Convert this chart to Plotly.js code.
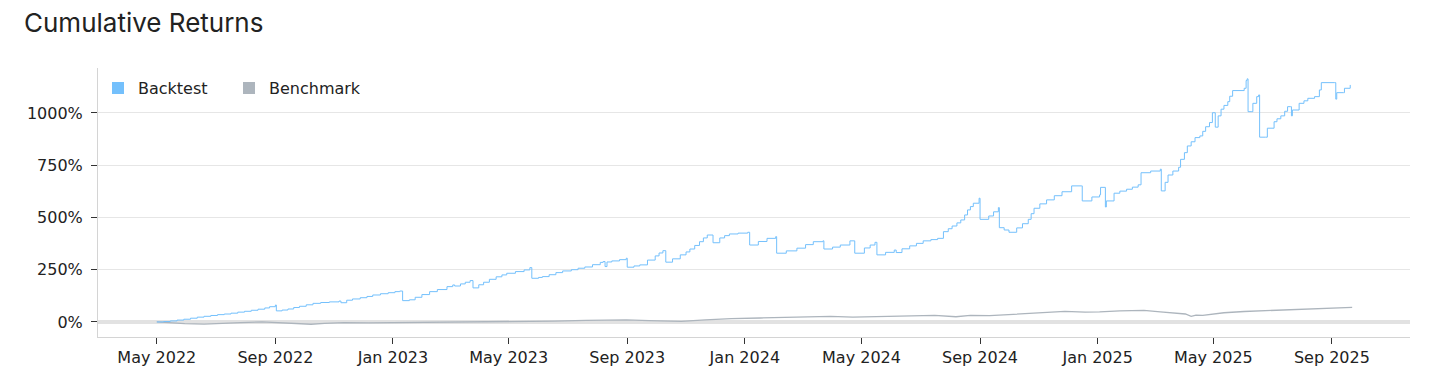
<!DOCTYPE html>
<html>
<head>
<meta charset="utf-8">
<script src="https://cdn.plot.ly/plotly-3.0.1.min.js"></script>
<style>html,body{margin:0;padding:0;background:#fff;}#chart{width:1456px;height:389px;}</style>
</head>
<body>
<div id="chart"></div>
<script>
// Backtest cumulative returns (%)
const backtestDates = [
"2022-05-01","2022-05-08","2022-05-15","2022-05-22","2022-05-29","2022-06-05","2022-06-12","2022-06-19",
"2022-06-26","2022-07-03","2022-07-10","2022-07-17","2022-07-24","2022-07-31","2022-08-07","2022-08-14",
"2022-08-21","2022-08-26","2022-09-01","2022-09-02","2022-09-08","2022-09-14","2022-09-20","2022-09-26",
"2022-10-03","2022-10-10","2022-10-18","2022-10-27","2022-11-06","2022-11-08","2022-11-14","2022-11-20",
"2022-11-28","2022-12-05","2022-12-11","2022-12-19","2022-12-27","2023-01-03","2023-01-08","2023-01-11",
"2023-01-18","2023-01-24","2023-01-31","2023-02-08","2023-02-16","2023-02-26","2023-03-04","2023-03-06",
"2023-03-12","2023-03-17","2023-03-22","2023-03-25","2023-03-31","2023-04-05","2023-04-11","2023-04-18",
"2023-04-24","2023-04-29","2023-05-08","2023-05-17","2023-05-23","2023-05-25","2023-06-01","2023-06-05",
"2023-06-12","2023-06-19","2023-06-26","2023-07-05","2023-07-12","2023-07-19","2023-07-27","2023-08-04",
"2023-08-07","2023-08-09","2023-08-11","2023-08-16","2023-08-24","2023-08-31","2023-09-01","2023-09-08",
"2023-09-14","2023-09-22","2023-09-30","2023-10-04","2023-10-08","2023-10-11","2023-10-18","2023-10-26",
"2023-11-01","2023-11-05","2023-11-10","2023-11-15","2023-11-19","2023-11-23","2023-11-29","2023-12-06",
"2023-12-11","2023-12-16","2023-12-25","2024-01-04","2024-01-06","2024-01-15","2024-01-24","2024-02-02",
"2024-02-03","2024-02-13","2024-02-24","2024-03-04","2024-03-12","2024-03-22","2024-03-23","2024-04-01",
"2024-04-09","2024-04-19","2024-04-24","2024-05-04","2024-05-10","2024-05-15","2024-05-17","2024-05-26",
"2024-06-04","2024-06-06","2024-06-12","2024-06-20","2024-06-27","2024-07-04","2024-07-12","2024-07-19",
"2024-07-25","2024-07-30","2024-08-03","2024-08-08","2024-08-12","2024-08-16","2024-08-19","2024-08-22",
"2024-08-25","2024-08-31","2024-09-01","2024-09-10","2024-09-15","2024-09-20","2024-09-21","2024-09-26",
"2024-10-01","2024-10-09","2024-10-15","2024-10-21","2024-10-24","2024-10-27","2024-11-02","2024-11-09",
"2024-11-17","2024-11-25","2024-12-05","2024-12-15","2024-12-16","2024-12-26","2025-01-03","2025-01-04",
"2025-01-09","2025-01-10","2025-01-18","2025-01-24","2025-01-31","2025-02-06","2025-02-12","2025-02-15",
"2025-02-25","2025-03-07","2025-03-08","2025-03-12","2025-03-15","2025-03-20","2025-03-26","2025-03-28",
"2025-04-01","2025-04-04","2025-04-08","2025-04-12","2025-04-17","2025-04-20","2025-04-23","2025-04-27",
"2025-04-30","2025-05-03","2025-05-06","2025-05-09","2025-05-12","2025-05-16","2025-05-18","2025-05-21",
"2025-06-02","2025-06-04","2025-06-05","2025-06-06","2025-06-10","2025-06-11","2025-06-15","2025-06-17",
"2025-06-18","2025-06-24","2025-06-26","2025-07-03","2025-07-06","2025-07-10","2025-07-14","2025-07-17",
"2025-07-20","2025-07-21","2025-07-22","2025-07-29","2025-08-03","2025-08-07","2025-08-14","2025-08-19",
"2025-08-21","2025-09-04","2025-09-05","2025-09-06","2025-09-13","2025-09-14","2025-09-20"
];
const backtestValues = [
0,2,5,9,13,18,23,27,
31,35,38,42,47,51,56,61,
67,73,81,53,57,62,69,75,
82,89,93,96,100,92,104,110,
116,122,129,135,140,145,148,102,
106,118,131,145,155,169,177,172,
182,190,198,163,178,190,204,216,
225,233,241,249,260,209,213,217,
226,236,244,250,257,263,274,285,
289,265,287,292,298,305,262,268,
273,296,316,330,341,286,302,321,
335,349,366,384,402,416,379,402,
413,421,425,429,368,385,400,408,
329,340,353,370,384,388,349,358,
368,388,329,354,368,381,321,333,
344,332,350,364,376,388,394,400,
432,446,459,474,488,512,536,552,
568,592,491,507,527,547,451,440,
429,450,470,491,518,544,565,584,
604,623,651,651,579,598,608,644,
550,579,616,626,635,645,656,714,
722,731,627,668,703,722,740,778,
810,842,862,882,890,912,934,954,
1001,932,986,1018,1036,1054,1080,1107,
1118,1155,1163,1006,1006,1046,1078,1086,
884,884,927,958,972,986,1008,1030,
1030,986,1014,1046,1058,1070,1078,1110,
1145,1145,1066,1097,1097,1118,1134
];

// Benchmark cumulative returns (%)
const benchmarkDates = [
"2022-05-01","2022-05-14","2022-05-30","2022-06-19","2022-07-06","2022-07-27","2022-08-18","2022-08-31",
"2022-09-12","2022-09-26","2022-10-08","2022-10-22","2022-11-11","2022-12-07","2023-01-06","2023-02-07",
"2023-03-11","2023-04-10","2023-05-15","2023-06-17","2023-07-20","2023-08-14","2023-08-31","2023-09-24",
"2023-10-27","2023-11-21","2023-12-18","2024-01-17","2024-02-07","2024-02-27","2024-03-30","2024-04-22",
"2024-05-20","2024-06-20","2024-07-16","2024-08-07","2024-08-22","2024-09-11","2024-10-02","2024-10-25",
"2024-11-10","2024-11-28","2024-12-19","2025-01-03","2025-01-24","2025-02-18","2025-03-07","2025-03-23",
"2025-04-02","2025-04-08","2025-04-13","2025-04-20","2025-05-03","2025-05-12","2025-06-02","2025-07-05",
"2025-07-29","2025-08-19","2025-09-04","2025-09-22"
];
const benchmarkValues = [
0,-4,-8,-10,-6,-3,0,-3,
-6,-9,-11,-7,-3,-4,-3,-1,
-2,1,0,4,8,9,10,6,
3,10,16,19,22,25,27,23,
26,29,31,25,31,30,36,42,
48,51,47,48,53,55,48,40,
38,27,33,31,40,44,50,56,
59,62,66,70
];

const seriesNames = ["Backtest","Benchmark"];
const seriesColors = ["#74c0fc","#adb5bd"];
const yTickVals = [0,250,500,750,1000];
const yTickText = ["0%","250%","500%","750%","1000%"];

const tickFont = {family:"DejaVu Sans, sans-serif", size:16, color:"#222"};

const traces = [
  {x: benchmarkDates, y: benchmarkValues, type:"scatter", mode:"lines", line:{color:seriesColors[1], width:1.3}, showlegend:false, hoverinfo:"skip"},
  {x: backtestDates, y: backtestValues, type:"scatter", mode:"lines", line:{color:seriesColors[0], width:1, shape:"hv"}, showlegend:false, hoverinfo:"skip"},
  {x:[null], y:[null], type:"scatter", mode:"markers", name:seriesNames[0], marker:{symbol:"square", size:12, color:seriesColors[0]}},
  {x:[null], y:[null], type:"scatter", mode:"markers", name:seriesNames[1], marker:{symbol:"square", size:12, color:seriesColors[1]}}
];

const layout = {
  width:1456, height:389,
  margin:{l:98, r:46, t:68, b:52, pad:0},
  paper_bgcolor:"#fff", plot_bgcolor:"#fff",
  title:{text:"Cumulative Returns", x:24/1456, xref:"container", xanchor:"left", y:1-23/389, yref:"container", yanchor:"middle",
         font:{family:"Inter, sans-serif", size:26, color:"#222"}},
  showlegend:true,
  legend:{orientation:"h", x:0, xanchor:"left", y:0.925, yanchor:"middle", font:tickFont, bgcolor:"rgba(0,0,0,0)", entrywidth:86, entrywidthmode:"pixels"},
  xaxis:{
    type:"date", range:["2022-03-01","2025-11-21"],
    tick0:"2022-01-01", dtick:"M4", tickformat:"%b %Y",
    showgrid:false, showline:true, linecolor:"#d4d4d4", linewidth:1,
    ticks:"outside", ticklen:6, tickcolor:"#333", tickwidth:1,
    tickfont:tickFont, zeroline:false
  },
  yaxis:{
    range:[-72,1215], tickvals:yTickVals, ticktext:yTickText,
    showgrid:true, gridcolor:"#e6e6e6", gridwidth:1,
    zeroline:true, zerolinecolor:"#e2e2e2", zerolinewidth:4,
    showline:true, linecolor:"#d4d4d4", linewidth:1,
    ticks:"outside", ticklen:6, tickcolor:"#333", tickwidth:1,
    tickfont:tickFont, ticklabelstandoff:5
  }
};

Plotly.newPlot("chart", traces, layout, {displayModeBar:false, staticPlot:true});
</script>
</body>
</html>
